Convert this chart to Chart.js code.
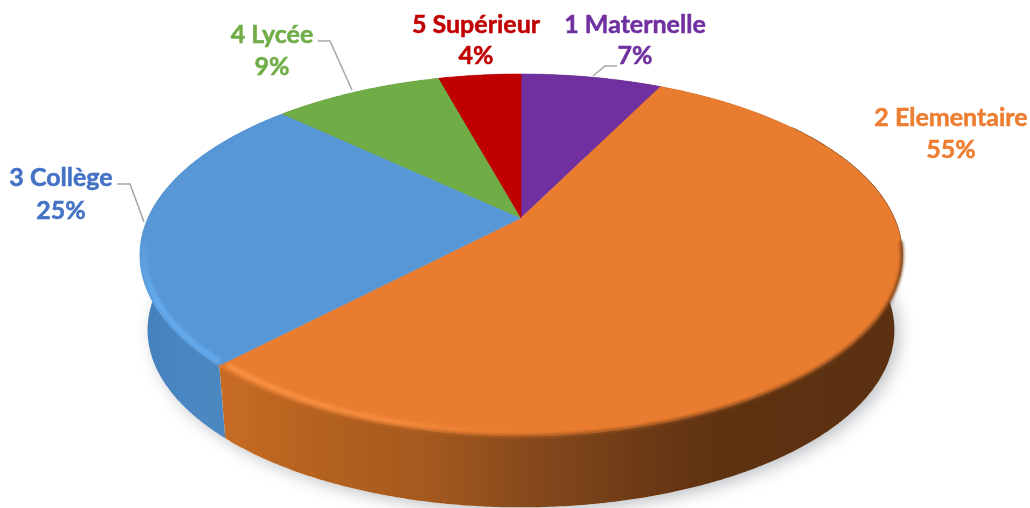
<!DOCTYPE html>
<html lang="fr">
<head>
    <meta charset="UTF-8">
    <title>Répartition par niveau</title>
    <style>
        body {
            background-color: white;
            margin: 0;
        }
        .chart-box {
            width: 1030px;
            height: 508px;
            overflow: hidden;
        }
    </style>
</head>
<body>
    <div class="chart-box">
        <canvas id="chart"></canvas>
    </div>

    <script src="https://cdn.jsdelivr.net/npm/chart.js"></script>
    <script>
        const categories = ['1 Maternelle', '2 Elementaire', '3 Collège', '4 Lycée', '5 Supérieur'];
        const shares = [7.3, 54.8, 24.9, 8.75, 4.25];
        const topColors = ['#7030a0', '#ea7c30', '#5897d5', '#70ad47', '#c00000'];
        const textColors = ['#7030a0', '#ed7d31', '#4472c4', '#70ad47', '#c00000'];

        // where each label sits, same order as categories
        const labelCentres = [[635, 25, 56], [951, 118, 150], [61, 178, 211], [272, 35, 67], [476, 25, 56]];
        const leaders = [
            [[617, 66], [605, 66], [593, 76]],
            null,
            [[117, 184], [130, 184], [144, 222]],
            [[318, 41], [330, 41], [352, 90]],
            null
        ];

        // perspective of the disc: apex at (cx, cy), far edge y=74, near edge y=436
        const cx = 521, cy = 218;
        const persp = 0.2045, spanX = 373, spanY = 173.4;
        const depth = 75, baseScale = 0.98, midY = 255;

        function topPoint(a, r) {
            const u = r * Math.sin(a), v = r * Math.cos(a);
            const w = 1 + persp * v;
            return [cx + spanX * u / w, cy - spanY * v / w];
        }
        function basePoint(a) {
            const p = topPoint(a, 1);
            return [cx + baseScale * (p[0] - cx), midY + depth + baseScale * (p[1] - midY)];
        }
        function trace(ctx, from, to, fn, start) {
            const steps = Math.max(2, Math.ceil(Math.abs(to - from) / 0.008));
            for (let i = 0; i <= steps; i++) {
                const p = fn(from + (to - from) * i / steps);
                if (i === 0 && start) ctx.moveTo(p[0], p[1]);
                else ctx.lineTo(p[0], p[1]);
            }
        }
        function rimGradient(ctx, stops) {
            const g = ctx.createLinearGradient(140, 0, 902, 0);
            stops.forEach(s => g.addColorStop((s[0] - 140) / 762, s[1]));
            return g;
        }
        function strokeRim(ctx, from, to, r, width, blur, style) {
            ctx.save();
            ctx.filter = 'blur(' + blur + 'px)';
            ctx.lineWidth = width;
            ctx.strokeStyle = style;
            ctx.beginPath();
            trace(ctx, from, to, a => topPoint(a, r), true);
            ctx.stroke();
            ctx.restore();
        }

        const pie3d = {
            id: 'pie3d',
            beforeDatasetsDraw(chart) {
                const ctx = chart.ctx;
                // library angles start at -PI/2, here 0 is the top of the disc
                const arcs = chart.getDatasetMeta(0).data.map(arc => ({
                    from: arc.startAngle + Math.PI / 2,
                    to: arc.endAngle + Math.PI / 2
                }));

                // soft shadow under the disc
                ctx.save();
                ctx.shadowColor = 'rgba(95,105,115,0.4)';
                ctx.shadowBlur = 16;
                ctx.shadowOffsetX = 5;
                ctx.shadowOffsetY = 4;
                ctx.fillStyle = '#ffffff';
                ctx.beginPath();
                trace(ctx, 0, Math.PI * 2, basePoint, true);
                ctx.fill();
                ctx.restore();

                // side wall
                const sideColors = [
                    '#5a3010',
                    rimGradient(ctx, [[222, '#c86c25'], [300, '#b7631f'], [420, '#a65a1e'], [540, '#84481c'], [640, '#6d3a15'], [720, '#5f3211'], [902, '#5a3010']]),
                    rimGradient(ctx, [[140, '#447fba'], [180, '#4a86c2'], [227, '#4c88bf']]),
                    '#4f7a32',
                    '#860000'
                ];
                arcs.forEach((arc, i) => {
                    ctx.fillStyle = sideColors[i];
                    ctx.beginPath();
                    trace(ctx, arc.from, arc.to, a => topPoint(a, 1), true);
                    trace(ctx, arc.to, arc.from, basePoint, false);
                    ctx.closePath();
                    ctx.fill();
                });

                // dark edge where the wall just shows on the far right
                strokeRim(ctx, 0.95, 1.9, 1, 1.4, 0.5, '#6b3a14');

                // top face
                arcs.forEach((arc, i) => {
                    ctx.fillStyle = topColors[i];
                    ctx.strokeStyle = topColors[i];
                    ctx.lineWidth = 0.6;
                    ctx.beginPath();
                    ctx.moveTo(cx, cy);
                    trace(ctx, arc.from, arc.to, a => topPoint(a, 1), false);
                    ctx.closePath();
                    ctx.fill();
                    ctx.stroke();
                });

                // bevel along the near rim
                const orangeEnd = arcs[1].to, blueEnd = arcs[2].to;
                strokeRim(ctx, 1.7, orangeEnd, 1, 3, 1.5, rimGradient(ctx, [[222, '#d9782c'], [520, '#a85a20'], [650, '#8a4a1a'], [800, '#7c4318']]));
                strokeRim(ctx, 2.9, orangeEnd - 0.01, 0.985, 5, 1.5, rimGradient(ctx, [[222, 'rgba(250,150,70,0.9)'], [400, 'rgba(248,145,65,0.7)'], [540, 'rgba(240,130,50,0)']]));
                const blueBand = ctx.createLinearGradient(0, 230, 0, 290);
                blueBand.addColorStop(0, 'rgba(100,172,240,0)');
                blueBand.addColorStop(1, 'rgba(100,172,240,0.85)');
                strokeRim(ctx, orangeEnd + 0.01, blueEnd - 0.9, 0.99, 6, 1.5, blueBand);

                // labels and leader lines
                ctx.font = '700 25px Lato, sans-serif';
                ctx.textAlign = 'center';
                ctx.textBaseline = 'middle';
                categories.forEach((name, i) => {
                    const c = labelCentres[i];
                    ctx.fillStyle = textColors[i];
                    ctx.strokeStyle = textColors[i];
                    ctx.lineWidth = 0.5;
                    ctx.fillText(name, c[0], c[1]);
                    ctx.strokeText(name, c[0], c[1]);
                    const pct = Math.round(shares[i]) + '%';
                    ctx.fillText(pct, c[0], c[2]);
                    ctx.strokeText(pct, c[0], c[2]);
                    if (leaders[i]) {
                        ctx.strokeStyle = '#a6a6a6';
                        ctx.lineWidth = 1.5;
                        ctx.beginPath();
                        leaders[i].forEach((p, k) => k ? ctx.lineTo(p[0], p[1]) : ctx.moveTo(p[0], p[1]));
                        ctx.stroke();
                    }
                });
                return false; // the flat arcs are not drawn
            }
        };

        new Chart(document.getElementById('chart'), {
            type: 'pie',
            data: {
                labels: categories,
                datasets: [{ data: shares, backgroundColor: topColors }]
            },
            options: {
                responsive: true,
                maintainAspectRatio: false,
                animation: false,
                plugins: {
                    legend: { display: false },
                    tooltip: { enabled: false }
                }
            },
            plugins: [pie3d]
        });
    </script>
</body>
</html>
